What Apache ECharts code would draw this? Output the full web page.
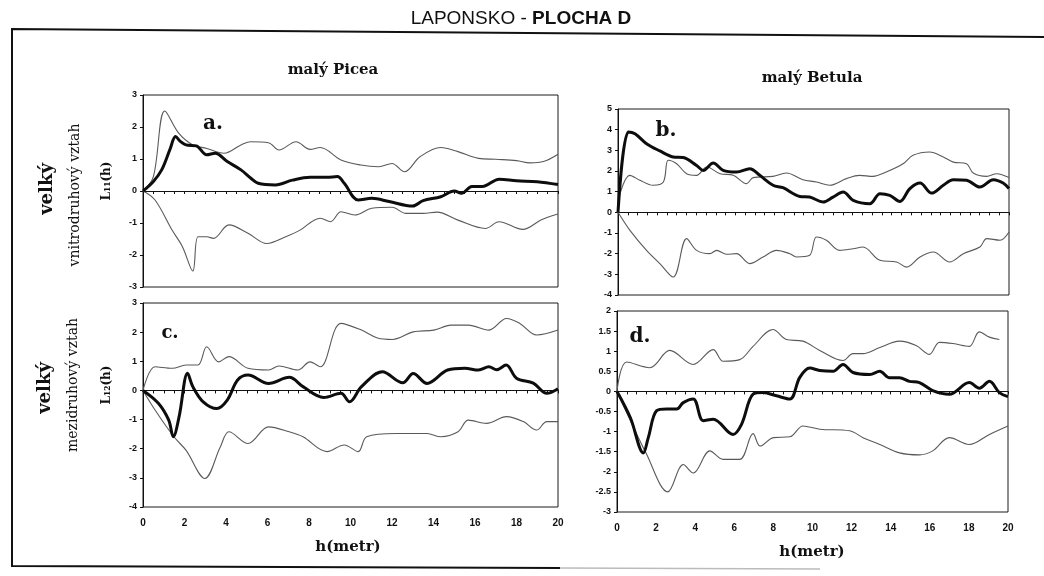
<!DOCTYPE html>
<html>
<head>
<meta charset="utf-8">
<script src="https://cdn.jsdelivr.net/npm/echarts@6/dist/echarts.min.js"></script>
<style>
  html, body { margin: 0; padding: 0; background: #fff; }
  #chart { width: 1044px; height: 576px; }
</style>
</head>
<body>
<div id="chart"></div>
<script>
// L(h) functions for Laponsko, plocha D: observed curve plus upper/lower envelopes, h = 0..20 m

// a. malý Picea x velký, vnitrodruhový vztah
const piceaIntraObs = [[0,0],[0.5,0.3],[0.9,0.66],[1.3,1.3],[1.57,1.7],[1.8,1.55],[2.07,1.44],[2.57,1.41],[3.07,1.13],[3.48,1.18],[4.06,0.92],[4.72,0.66],[5.2,0.4],[5.55,0.24],[6.38,0.19],[7.2,0.34],[8.05,0.43],[8.87,0.43],[9.37,0.45],[9.7,0.24],[10.37,-0.28],[11.03,-0.23],[11.86,-0.33],[13.0,-0.47],[13.5,-0.3],[14.35,-0.18],[15.0,0.0],[15.35,-0.07],[15.85,0.14],[16.35,0.14],[17.17,0.37],[18.0,0.32],[19.0,0.29],[20,0.2]];
const piceaIntraHi = [[0,0],[0.5,0.45],[1.05,2.5],[1.73,1.8],[2.4,1.44],[3.07,1.33],[3.9,1.18],[4.72,1.44],[5.2,1.54],[6.05,1.51],[6.55,1.28],[7.38,1.54],[8.05,1.3],[8.54,1.36],[9.54,0.97],[10.5,0.81],[11.36,0.76],[12.0,0.86],[12.6,0.6],[13.35,1.07],[14.35,1.36],[15.18,1.23],[16.17,1.02],[17.0,0.99],[18.0,0.95],[18.65,0.88],[19.3,0.92],[20,1.15]];
const piceaIntraLo = [[0,0],[0.58,-0.28],[1.4,-1.22],[1.9,-1.74],[2.4,-2.5],[2.65,-1.43],[3.07,-1.43],[3.4,-1.48],[4.14,-1.06],[5.06,-1.32],[5.97,-1.64],[6.88,-1.43],[7.55,-1.23],[8.54,-0.85],[9.04,-0.96],[9.54,-0.65],[10.2,-0.75],[11.03,-0.54],[12.0,-0.51],[12.67,-0.7],[13.5,-0.7],[14.17,-0.66],[15.18,-0.91],[16.5,-1.17],[17.16,-0.96],[18.3,-1.2],[19.2,-0.9],[20,-0.72]];

// b. malý Betula x velký, vnitrodruhový vztah
const betulaIntraObs = [[0,0],[0.53,3.89],[0.87,3.8],[1.46,3.32],[2.14,2.97],[2.82,2.68],[3.33,2.65],[4.02,2.27],[4.36,2.03],[4.87,2.39],[5.38,2.03],[6.06,1.95],[6.74,2.11],[7.25,1.79],[7.93,1.31],[8.44,1.19],[9.3,0.77],[9.8,0.74],[10.49,0.5],[11.0,0.74],[11.52,0.98],[12.03,0.58],[12.88,0.42],[13.4,0.9],[13.9,0.82],[14.42,0.53],[14.93,1.15],[15.45,1.42],[16.04,0.93],[16.64,1.31],[17.15,1.58],[17.83,1.55],[18.51,1.22],[19.2,1.58],[19.7,1.42],[20,1.15]];
const betulaIntraHi = [[0,0],[0.1,0.9],[0.61,1.79],[1.12,1.55],[1.8,1.31],[2.32,1.47],[2.57,2.52],[3.0,2.35],[3.51,1.87],[4.02,1.79],[4.54,2.19],[5.22,1.87],[5.9,1.79],[6.58,1.39],[6.92,1.68],[7.93,1.74],[8.61,1.9],[9.46,1.58],[10.15,1.47],[10.83,1.31],[11.68,1.63],[12.36,1.79],[13.04,1.74],[13.72,1.95],[14.58,2.35],[15.09,2.76],[15.94,2.92],[16.64,2.68],[17.15,2.43],[17.83,2.35],[18.17,1.9],[18.86,1.74],[19.37,1.87],[20,1.68]];
const betulaIntraLo = [[0,0],[0.61,-0.87],[1.46,-1.84],[2.14,-2.48],[2.82,-3.13],[3.51,-1.27],[4.02,-1.84],[4.7,-2.0],[5.04,-1.84],[5.55,-2.03],[6.06,-2.0],[6.74,-2.48],[7.42,-2.16],[8.11,-1.84],[8.79,-2.0],[9.13,-2.16],[9.8,-2.08],[10.15,-1.19],[10.66,-1.35],[11.34,-1.84],[12.03,-1.76],[12.53,-1.68],[13.4,-2.32],[14.25,-2.4],[14.76,-2.65],[15.45,-2.16],[16.13,-1.92],[16.97,-2.4],[17.66,-2.0],[18.51,-1.68],[18.86,-1.27],[19.54,-1.35],[20,-0.95]];

// c. malý Picea x velký, mezidruhový vztah
const piceaInterObs = [[0,0],[0.74,-0.44],[1.24,-1.02],[1.46,-1.59],[1.74,-0.9],[2.15,0.59],[2.4,0.13],[2.9,-0.39],[3.56,-0.62],[4.06,-0.33],[4.56,0.36],[5.06,0.53],[6.05,0.24],[7.05,0.45],[7.71,0.13],[8.71,-0.24],[9.54,-0.1],[9.95,-0.39],[10.53,0.13],[11.53,0.64],[12.52,0.26],[13.02,0.58],[13.69,0.24],[14.68,0.7],[15.51,0.76],[16.17,0.7],[16.67,0.81],[17.04,0.71],[17.5,0.87],[18.0,0.42],[18.81,0.25],[19.46,-0.1],[20,0.06]];
const piceaInterHi = [[0,0],[0.58,0.81],[1.41,0.76],[2.07,0.87],[2.65,0.87],[3.07,1.5],[3.65,0.98],[4.14,1.16],[5.06,0.76],[6.05,0.7],[6.55,0.84],[7.46,0.7],[8.05,0.98],[8.54,0.81],[9.54,2.3],[10.53,2.07],[11.3,1.8],[12.03,1.75],[13.02,2.01],[14.02,2.07],[14.84,2.24],[15.68,2.24],[16.67,2.07],[17.52,2.47],[18.16,2.3],[18.97,1.9],[20,2.07]];
const piceaInterLo = [[0,0],[0.58,-0.67],[1.49,-1.59],[2.07,-2.05],[2.98,-3.02],[3.73,-1.93],[4.14,-1.42],[5.06,-1.82],[6.05,-1.25],[7.05,-1.42],[7.71,-1.59],[8.87,-2.1],[9.7,-1.87],[10.37,-2.1],[10.78,-1.59],[12.19,-1.48],[13.69,-1.48],[14.35,-1.59],[15.18,-1.42],[15.68,-1.02],[16.56,-1.13],[17.52,-0.9],[18.33,-1.07],[18.97,-1.36],[19.46,-1.07],[20,-1.07]];

// d. malý Betula x velký, mezidruhový vztah
const betulaInterObs = [[0,0],[0.68,-0.65],[1.35,-1.53],[1.6,-1.15],[2.03,-0.48],[2.54,-0.44],[3.05,-0.44],[3.39,-0.28],[3.9,-0.19],[4.41,-0.73],[4.92,-0.69],[5.94,-1.07],[6.37,-0.82],[6.96,-0.07],[7.47,-0.03],[8.16,-0.11],[8.84,-0.19],[9.35,0.35],[9.86,0.58],[10.37,0.52],[11.05,0.5],[11.56,0.67],[12.07,0.47],[12.93,0.42],[13.44,0.5],[13.94,0.34],[14.45,0.34],[14.96,0.25],[15.47,0.22],[16.15,0.02],[17.0,-0.07],[18.02,0.22],[18.53,0.08],[19.05,0.25],[19.56,-0.03],[20,-0.13]];
const betulaInterHi = [[0,0],[0.49,0.73],[1.68,0.59],[2.7,1.02],[3.9,0.67],[4.92,1.04],[5.43,0.75],[6.28,0.79],[6.96,1.12],[7.98,1.54],[8.66,1.29],[9.51,1.25],[10.37,1.02],[11.56,0.77],[12.07,0.94],[12.58,0.94],[13.44,1.09],[14.45,1.25],[15.3,1.14],[15.98,0.92],[16.49,1.22],[17.19,1.19],[18.02,1.12],[18.53,1.48],[19.05,1.35],[19.56,1.29]];
const betulaInterLo = [[0,0],[1.52,-1.57],[2.6,-2.5],[3.39,-1.82],[3.9,-2.03],[4.75,-1.48],[5.43,-1.69],[6.28,-1.69],[6.96,-1.05],[7.32,-1.36],[8.0,-1.15],[8.84,-1.13],[9.51,-0.86],[10.37,-0.94],[11.9,-0.98],[12.58,-1.15],[13.44,-1.32],[14.45,-1.53],[15.47,-1.58],[16.15,-1.48],[17.0,-1.15],[18.02,-1.32],[19.05,-1.07],[20,-0.86]];

// y-axis ranges per panel [min, max, step]
const yRangeA = [-3, 3, 1];
const yRangeB = [-4, 5, 1];
const yRangeC = [-4, 3, 1];
const yRangeD = [-3, 2, 0.5];

const panelTags = ['a.', 'b.', 'c.', 'd.'];
const columnTitles = ['malý Picea', 'malý Betula'];
const xName = 'h(metr)';

const chart = echarts.init(document.getElementById('chart'), null, { renderer: 'canvas' });

const panels = [
  { box: { left: 143, top: 95,  width: 415, height: 192 }, y: yRangeA, xLabels: false, data: [piceaIntraHi, piceaIntraLo, piceaIntraObs] },
  { box: { left: 618, top: 109, width: 391, height: 186 }, y: yRangeB, xLabels: false, data: [betulaIntraHi, betulaIntraLo, betulaIntraObs] },
  { box: { left: 143, top: 303, width: 415, height: 204 }, y: yRangeC, xLabels: true,  data: [piceaInterHi, piceaInterLo, piceaInterObs] },
  { box: { left: 617, top: 311, width: 391, height: 201 }, y: yRangeD, xLabels: true,  data: [betulaInterHi, betulaInterLo, betulaInterObs] }
];

const grid = [], xAxis = [], yAxis = [], series = [];
panels.forEach((p, i) => {
  grid.push(Object.assign({ show: true, borderColor: '#1a1a1a', borderWidth: 1, backgroundColor: 'transparent' }, p.box));
  // labelled axis along the bottom of the box
  xAxis.push({
    type: 'value', gridIndex: i, min: 0, max: 20, interval: 2, position: 'bottom',
    axisLine: { show: false, onZero: false }, axisTick: { show: false }, splitLine: { show: false },
    axisLabel: {
      show: p.xLabels, margin: 11, color: '#111', fontSize: 10, fontWeight: 'bold',
      fontFamily: '"Liberation Sans Narrow", "Liberation Sans", sans-serif'
    }
  });
  // zero line with half-metre ticks
  xAxis.push({
    type: 'value', gridIndex: i, min: 0, max: 20, interval: 0.5, position: 'bottom',
    axisLine: { show: true, onZero: true, lineStyle: { color: '#111', width: 1 } },
    axisTick: { show: true, length: 3, lineStyle: { color: '#111', width: 1 } },
    axisLabel: { show: false }, splitLine: { show: false }
  });
  yAxis.push({
    type: 'value', gridIndex: i, min: p.y[0], max: p.y[1], interval: p.y[2],
    axisLine: { show: true, onZero: false, lineStyle: { color: '#111', width: 1 } },
    axisTick: { show: true, length: 3, lineStyle: { color: '#111' } },
    splitLine: { show: false },
    axisLabel: {
      margin: 6, color: '#111', fontSize: 9, fontWeight: 'bold',
      fontFamily: '"Liberation Sans", Arial, sans-serif'
    }
  });
  p.data.forEach((d, k) => {
    const obs = k === 2;
    series.push({
      type: 'line', xAxisIndex: 2 * i, yAxisIndex: i, data: d,
      showSymbol: false, symbol: 'none', smooth: 0.35, z: obs ? 5 : 3,
      lineStyle: obs ? { color: '#0d0d0d', width: 3 } : { color: '#5a5a5a', width: 1.1 }
    });
  });
});

const serifBold = '"DejaVu Serif", "Liberation Serif", serif';
function txt(text, x, y, size, opts) {
  opts = opts || {};
  return {
    type: 'text', x: x, y: y, rotation: opts.rot || 0, z: 10,
    style: {
      text: text, x: 0, y: 0, align: 'center', verticalAlign: 'middle',
      font: (opts.weight || 'bold') + ' ' + size + 'px ' + (opts.family || serifBold),
      fill: opts.color || '#111'
    }
  };
}

const graphic = [
  // outer frame
  { type: 'polyline', z: 1, shape: { points: [[1044, 37], [12, 29], [12, 566], [560, 568]] }, style: { stroke: '#111', lineWidth: 2, fill: null } },
  { type: 'line', z: 1, shape: { x1: 560, y1: 568, x2: 820, y2: 569 }, style: { stroke: '#bbb', lineWidth: 1.5 } },
  // main title
  {
    type: 'text', x: 521, y: 19, z: 10,
    style: {
      text: '{n|LAPONSKO - }{b|PLOCHA D}', x: 0, y: 0, align: 'center', verticalAlign: 'middle',
      rich: {
        n: { font: 'normal 19px "Liberation Sans Narrow", "Liberation Sans", sans-serif', fill: '#111' },
        b: { font: 'bold 19px "Liberation Sans Narrow", "Liberation Sans", sans-serif', fill: '#111' }
      }
    }
  },
  txt(columnTitles[0], 333, 70, 15),
  txt(columnTitles[1], 812, 78, 15),
  // row labels
  txt('velký', 47, 189, 18, { rot: Math.PI / 2 }),
  txt('vnitrodruhový vztah', 75, 195, 14, { rot: Math.PI / 2, weight: 'normal' }),
  txt('L₁₁(h)', 107, 181, 12, { rot: Math.PI / 2 }),
  txt('velký', 45, 388, 18, { rot: Math.PI / 2 }),
  txt('mezidruhový vztah', 73, 385, 14, { rot: Math.PI / 2, weight: 'normal' }),
  txt('L₁₂(h)', 107, 385, 12, { rot: Math.PI / 2 }),
  // panel tags
  txt(panelTags[0], 213, 124, 20),
  txt(panelTags[1], 666, 131, 20),
  txt(panelTags[2], 170, 333, 18),
  txt(panelTags[3], 640, 337, 20),
  // x-axis names
  txt(xName, 348, 547, 15),
  txt(xName, 812, 552, 15)
];

chart.setOption({
  animation: false,
  backgroundColor: '#fff',
  grid: grid, xAxis: xAxis, yAxis: yAxis, series: series, graphic: graphic
});
</script>
</body>
</html>
